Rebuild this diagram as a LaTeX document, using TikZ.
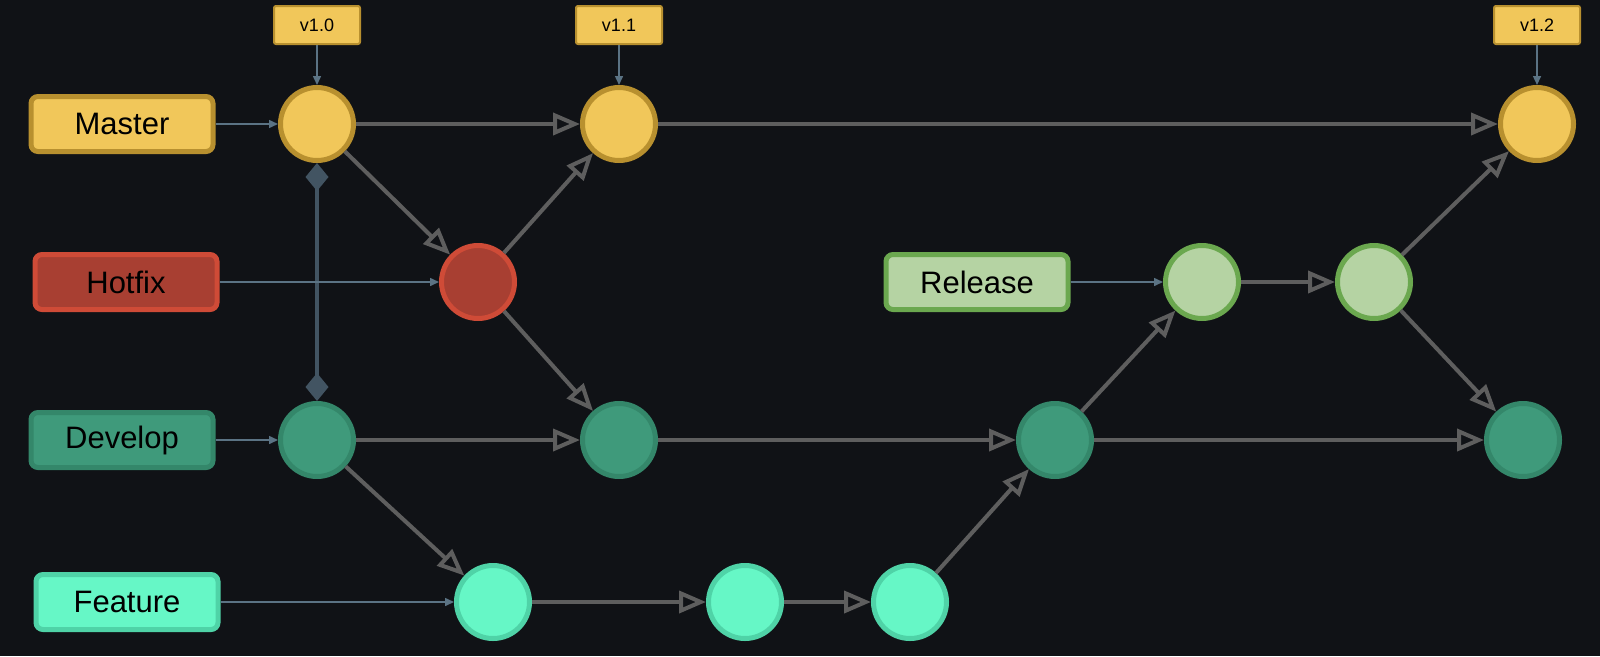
\documentclass[tikz,border=0pt]{standalone}
\usepackage{fontspec}
\setmainfont{Liberation Sans}
\usetikzlibrary{arrows.meta,positioning}
\definecolor{bgdark}{HTML}{101216}
\definecolor{mastfill}{HTML}{F1C75A}
\definecolor{mastline}{HTML}{B8902F}
\definecolor{hotfill}{HTML}{A83F32}
\definecolor{hotline}{HTML}{CF4B37}
\definecolor{devfill}{HTML}{3F9A7B}
\definecolor{devline}{HTML}{34876A}
\definecolor{featfill}{HTML}{66F7C6}
\definecolor{featline}{HTML}{4FD3A7}
\definecolor{relfill}{HTML}{B5D3A3}
\definecolor{relline}{HTML}{6BA84F}
\definecolor{linkgray}{HTML}{5E5E5E}
\definecolor{ptrblue}{HTML}{5B7384}
\definecolor{lockgray}{HTML}{425462}

\begin{document}
\begin{tikzpicture}[
  x=1pt, y=-1pt, on grid,
  commit/.style={circle, minimum size=73pt, inner sep=0pt, line width=5pt},
  lbl/.style={rounded corners=7pt, minimum width=182pt, minimum height=55pt, line width=5pt, text=black, font=\fontsize{31}{36}\selectfont},
  tag/.style={draw=mastline, fill=mastfill, rounded corners=2pt, line width=2pt, minimum width=86pt, minimum height=38pt, text=black, font=\fontsize{18}{21}\selectfont},
  master/.style={draw=mastline, fill=mastfill},
  hotfix/.style={draw=hotline, fill=hotfill},
  develop/.style={draw=devline, fill=devfill},
  feature/.style={draw=featline, fill=featfill},
  release/.style={draw=relline, fill=relfill},
  arr/.style={draw=linkgray, line width=4pt, -{Triangle[open, length=27pt, width=22pt]}},
  ptr/.style={draw=ptrblue, line width=1.5pt, -{Triangle[length=9pt, width=8pt]}},
  lock/.style={draw=lockgray, line width=4pt, {Diamond[length=28pt, width=23pt]}-{Diamond[length=28pt, width=23pt]}}
]
\fill[bgdark] (0,0) rectangle (1600,656);
\useasboundingbox (0,0) rectangle (1600,656);

\node[commit, master] (m1) at (317,124) {};
\node[commit, master, right=302pt of m1] (m2) {};
\node[commit, master, right=918pt of m2] (m3) {};
\node[commit, hotfix, below right=158pt and 161pt of m1] (h1) {};
\node[commit, develop, below=316pt of m1] (d1) {};
\node[commit, develop, right=302pt of d1] (d2) {};
\node[commit, develop, right=436pt of d2] (d3) {};
\node[commit, develop, right=468pt of d3] (d4) {};
\node[commit, feature, below right=162pt and 176pt of d1] (f1) {};
\node[commit, feature, right=252pt of f1] (f2) {};
\node[commit, feature, right=165pt of f2] (f3) {};
\node[commit, release, above right=158pt and 147pt of d3] (r1) {};
\node[commit, release, right=172pt of r1] (r2) {};

\node[tag, above=99pt of m1] (t10) {v1.0};
\node[tag, above=99pt of m2] (t11) {v1.1};
\node[tag, above=99pt of m3] (t12) {v1.2};

\node[lbl, master, left=195pt of m1] (lmaster) {Master};
\node[lbl, hotfix, left=352pt of h1] (lhotfix) {Hotfix};
\node[lbl, develop, left=195pt of d1] (ldevelop) {Develop};
\node[lbl, feature, left=366pt of f1] (lfeature) {Feature};
\node[lbl, release, left=225pt of r1] (lrelease) {Release};

\draw[lock] (m1) -- (d1);
\draw[ptr] (lmaster) -- (m1);
\draw[ptr] (lhotfix) -- (h1);
\draw[ptr] (ldevelop) -- (d1);
\draw[ptr] (lfeature) -- (f1);
\draw[ptr] (lrelease) -- (r1);
\draw[ptr] (t10) -- (m1);
\draw[ptr] (t11) -- (m2);
\draw[ptr] (t12) -- (m3);

\draw[arr] (m1) -- (m2);
\draw[arr] (m2) -- (m3);
\draw[arr] (m1) -- (h1);
\draw[arr] (h1) -- (m2);
\draw[arr] (h1) -- (d2);
\draw[arr] (d1) -- (d2);
\draw[arr] (d2) -- (d3);
\draw[arr] (d3) -- (d4);
\draw[arr] (d1) -- (f1);
\draw[arr] (f1) -- (f2);
\draw[arr] (f2) -- (f3);
\draw[arr] (f3) -- (d3);
\draw[arr] (d3) -- (r1);
\draw[arr] (r1) -- (r2);
\draw[arr] (r2) -- (m3);
\draw[arr] (r2) -- (d4);
\end{tikzpicture}
\end{document}
